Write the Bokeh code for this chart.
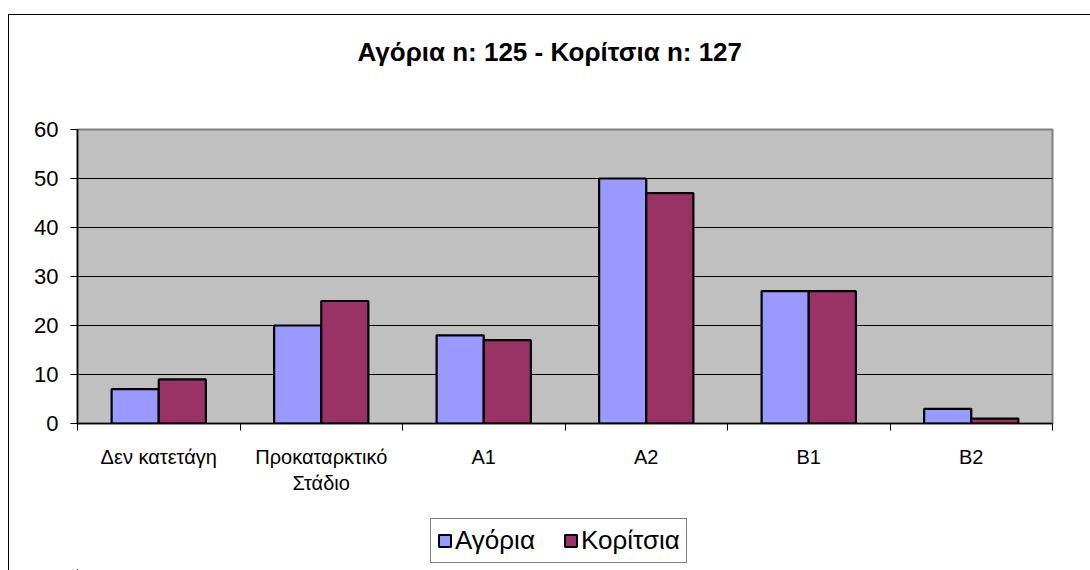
from bokeh.plotting import figure
from bokeh.models import FixedTicker, Legend, LegendItem, Title, Column
from bokeh.embed import file_html
from bokeh.resources import INLINE

categories = ["Δεν κατετάγη", "Προκαταρκτικό\nΣτάδιο", "A1", "A2", "B1", "B2"]
boys = [7, 20, 18, 50, 27, 3]
girls = [9, 25, 17, 47, 27, 1]
series_names = ["Αγόρια", "Κορίτσια"]
series_colors = ["#9999FF", "#993366"]
y_ticks = [0, 10, 20, 30, 40, 50, 60]
title_text = "Αγόρια n: 125 - Κορίτσια n: 127"

FONT = "Liberation Sans"
bw = 0.29
idx = list(range(len(categories)))
x_boys = [i + 0.5 - bw / 2 for i in idx]
x_girls = [i + 0.5 + bw / 2 for i in idx]

W = 1081
p = figure(width=W, height=493, x_range=(0, len(categories)), y_range=(0, 60),
           output_backend="svg", toolbar_location=None,
           min_border_left=68, min_border_right=38, min_border_top=114, min_border_bottom=85)

p.background_fill_color = "#C0C0C0"
p.border_fill_color = "white"
p.outline_line_color = "#808080"
p.outline_line_width = 2

# spacer between title and plot area
p.add_layout(Title(text=" ", text_font_size="1px", standoff=55), "above")

p.title.text = title_text
p.title.text_font = FONT
p.title.text_font_size = "26px"
p.title.text_font_style = "bold"
p.title.text_color = "black"
p.title.align = "left"
p.title.offset = 280
p.title.standoff = 10

p.vbar(x=x_boys, top=boys, width=bw, bottom=0, fill_color=series_colors[0],
       line_color="black", line_width=2.2)
p.vbar(x=x_girls, top=girls, width=bw, bottom=0, fill_color=series_colors[1],
       line_color="black", line_width=2.2)

# y axis
p.yaxis.ticker = FixedTicker(ticks=y_ticks)
p.yaxis.major_tick_out = 7
p.yaxis.major_tick_in = 0
p.yaxis.minor_tick_line_color = None
p.yaxis.axis_line_color = "black"
p.yaxis.axis_line_width = 1.5
p.yaxis.major_label_text_font = FONT
p.yaxis.major_label_text_font_size = "22px"
p.yaxis.major_label_text_color = "black"
p.yaxis.major_label_standoff = 12

# x axis
centers = [i + 0.5 for i in idx]
p.xaxis.ticker = FixedTicker(ticks=centers, minor_ticks=list(range(len(categories) + 1)))
p.xaxis.major_label_overrides = {c: lab for c, lab in zip(centers, categories)}
p.xaxis.major_tick_out = 0
p.xaxis.major_tick_in = 0
p.xaxis.minor_tick_out = 7
p.xaxis.minor_tick_in = 0
p.xaxis.minor_tick_line_color = "black"
p.xaxis.axis_line_color = "black"
p.xaxis.axis_line_width = 1.5
p.xaxis.major_label_text_font = FONT
p.xaxis.major_label_text_font_size = "20px"
p.xaxis.major_label_text_color = "black"
p.xaxis.major_label_standoff = 15

p.xgrid.grid_line_color = None
p.ygrid.grid_line_color = "black"
p.ygrid.grid_line_width = 1
p.ygrid.ticker = FixedTicker(ticks=y_ticks)

# legend strip below the chart (its proxy bars lie far outside its visible range)
lg = figure(width=W, height=62, x_range=(1000, 1001), y_range=(1000, 1001),
            output_backend="svg", toolbar_location=None,
            x_axis_location=None, y_axis_location=None,
            min_border_left=0, min_border_right=0, min_border_top=0, min_border_bottom=0)
lg.grid.visible = False
lg.outline_line_color = None
lg.background_fill_color = "white"
lg.border_fill_color = "white"
lr1 = lg.vbar(x=x_boys, top=boys, bottom=0, width=bw, fill_color=series_colors[0],
              line_color="black", line_width=2)
lr2 = lg.vbar(x=x_girls, top=girls, bottom=0, width=bw, fill_color=series_colors[1],
              line_color="black", line_width=2)

legend = Legend(items=[LegendItem(label=series_names[0], renderers=[lr1]),
                       LegendItem(label=series_names[1], renderers=[lr2])],
                orientation="horizontal", location=(353, 7))
legend.margin = 0
legend.label_text_font = FONT
legend.label_text_font_size = "26px"
legend.label_text_color = "black"
legend.glyph_width = 15
legend.glyph_height = 15
legend.label_standoff = 3
legend.spacing = 28
legend.padding = 6
legend.border_line_color = "black"
legend.border_line_width = 1
legend.background_fill_color = "white"
legend.background_fill_alpha = 1
lg.add_layout(legend, "center")

page = Column(children=[p, lg], spacing=0)
page.margin = (14, 0, 0, 8)
page.styles = {"border-left": "1px solid black", "border-top": "1px solid black"}

open("out.html", "w").write(file_html(page, INLINE))
